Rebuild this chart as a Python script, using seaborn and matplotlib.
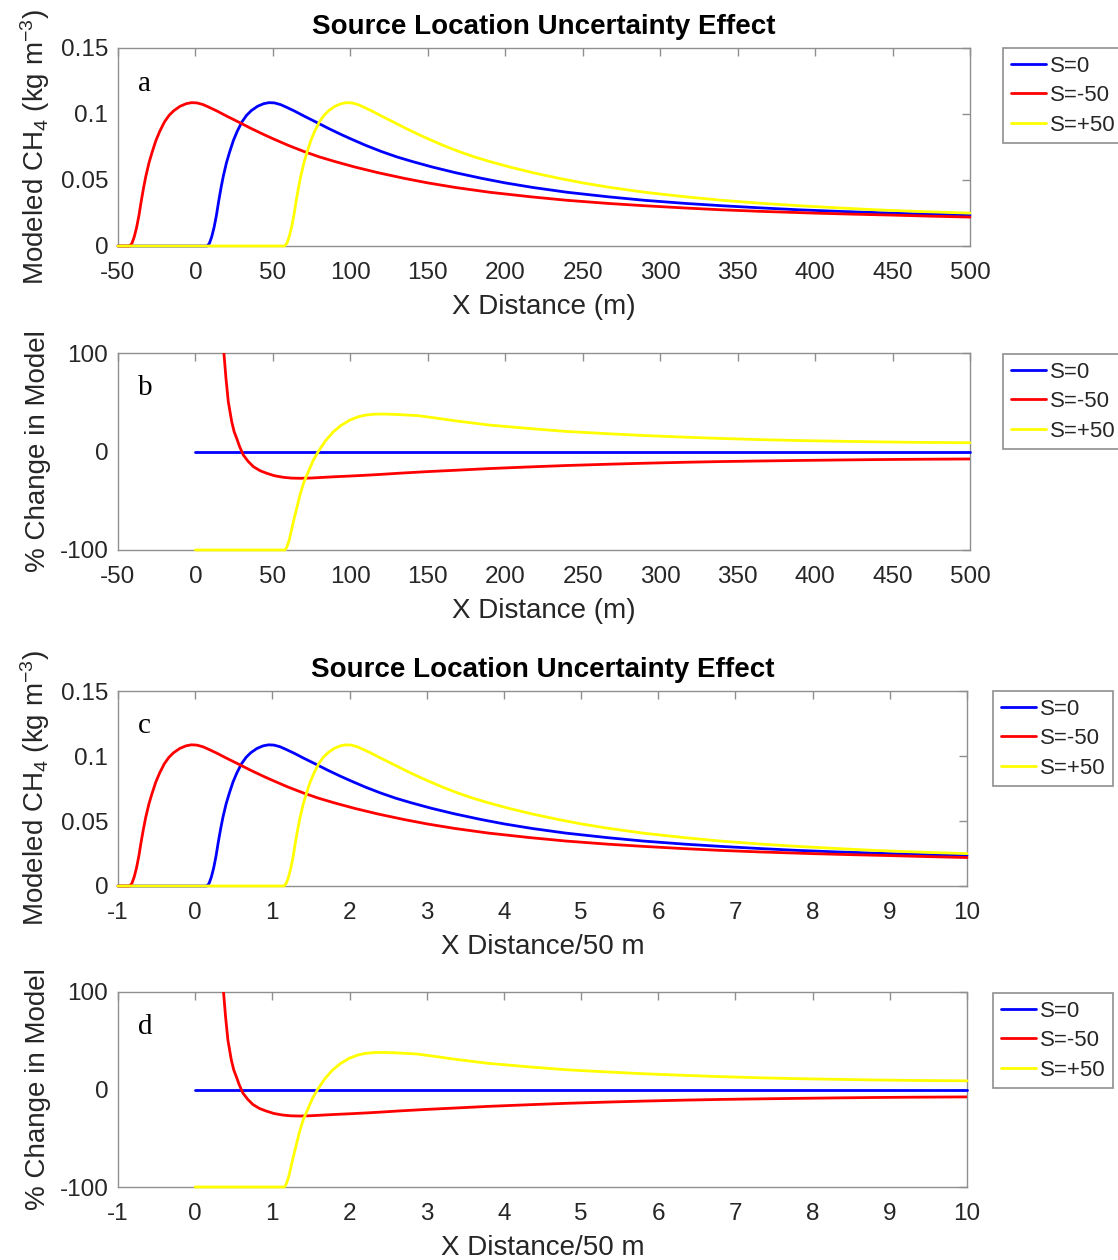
import matplotlib
matplotlib.use("Agg")
import matplotlib.pyplot as plt
import numpy as np
import pandas as pd
import seaborn as sns
from matplotlib.lines import Line2D

# ---------------- data ----------------
# Modeled concentration profile vs. distance downwind of the source (m)
downwind_m = [-100, -50, 0, 7.5, 9, 10.5, 12, 13.5, 15, 16.5, 18, 20, 22, 24.5,
              27, 30, 33, 36, 40, 44, 47.5, 51, 55, 59, 64, 70, 78, 86, 94,
              100, 110, 120, 130, 140, 153, 168, 185, 200, 218, 240, 267, 290,
              317, 340, 366, 390, 416, 450, 475, 500, 525, 550]
conc_profile = [0, 0, 0, 0, 0.002, 0.007, 0.014, 0.023, 0.034, 0.044, 0.053,
                0.063, 0.071, 0.080, 0.087, 0.094, 0.099, 0.1025, 0.1058,
                0.1078, 0.1086, 0.1084, 0.1071, 0.1050, 0.1022, 0.0985, 0.0938,
                0.0890, 0.0845, 0.0813, 0.0762, 0.0716, 0.0675, 0.0640, 0.0598,
                0.0555, 0.0512, 0.0478, 0.0443, 0.0407, 0.0372, 0.0346, 0.0322,
                0.0305, 0.0288, 0.0274, 0.0262, 0.0249, 0.0241, 0.0234, 0.0226,
                0.0219]

source_shift_m = [0, -50, 50]
series_labels = ["S=0", "S=-50", "S=+50"]
series_colors = ["#0000ff", "#ff0000", "#ffff00"]

# % change in model relative to S=0
pct_x_s0 = [0, 500]
pct_y_s0 = [0, 0]
pct_x_sm50 = [16.5, 17.5, 18.4, 19.7, 21.2, 23.4, 25, 26.6, 28.5, 30.9, 34,
              37.4, 41.7, 46, 51, 56.7, 62, 67.5, 75, 89, 100, 110, 119, 132,
              150, 168.5, 190, 218, 240, 267, 290, 317, 340, 366, 390, 416,
              440, 465, 500]
pct_y_sm50 = [135, 115, 99.2, 74.3, 50.6, 30.3, 20, 13.4, 5, -3.6, -10, -15.4,
              -19.5, -22.1, -24.6, -26.2, -27, -27.2, -26.9, -25.7, -24.9,
              -24.1, -23.3, -22, -20.4, -19, -17.3, -15.5, -14.2, -12.9, -11.9,
              -10.9, -10.2, -9.6, -9.1, -8.6, -8.2, -7.9, -7.6]
pct_x_sp50 = [0, 57.8, 59, 60.5, 62, 63.2, 65, 67.5, 70, 72.9, 76, 79.3, 84, 89,
              94, 99.8, 105, 110, 116, 122, 130, 143.8, 155, 168.5, 190, 218,
              240, 267, 290, 317, 340, 366, 390, 416, 440, 465, 500]
pct_y_sp50 = [-100, -100, -97, -90, -80, -71.3, -60, -44, -31, -20.5, -9, 0, 11,
              20, 26.5, 32, 35.2, 37, 37.9, 38, 37.6, 36.4, 34, 31, 26.8, 23,
              20.3, 18, 16.2, 14.5, 13.2, 12, 11.1, 10.4, 9.8, 9.3, 8.9]

x_range_m = [-50, 500]
x_ticks_m = [-50, 0, 50, 100, 150, 200, 250, 300, 350, 400, 450, 500]
x_ticks_norm = [-1, 0, 1, 2, 3, 4, 5, 6, 7, 8, 9, 10]
norm_length_m = 50
conc_ticks = [0, 0.05, 0.1, 0.15]
pct_ticks = [-100, 0, 100]
panel_letters = ["a", "b", "c", "d"]
title_text = "Source Location Uncertainty Effect"

# ---------------- tables ----------------
rows = []
for lab, shift in zip(series_labels, source_shift_m):
    for d, c in zip(downwind_m, conc_profile):
        x = d + shift
        if x_range_m[0] <= x <= x_range_m[1]:
            rows.append({"series": lab, "x": x, "val": c})
conc_df = pd.DataFrame(rows)

pct_df = pd.concat([
    pd.DataFrame({"series": "S=0", "x": pct_x_s0, "val": pct_y_s0}),
    pd.DataFrame({"series": "S=-50", "x": pct_x_sm50, "val": pct_y_sm50}),
    pd.DataFrame({"series": "S=+50", "x": pct_x_sp50, "val": pct_y_sp50}),
], ignore_index=True)

# ---------------- style ----------------
sns.set_theme(style="white")
plt.rcParams["font.family"] = ["Liberation Sans", "DejaVu Sans"]
plt.rcParams["mathtext.fontset"] = "custom"
plt.rcParams["mathtext.rm"] = "Liberation Sans"
plt.rcParams["mathtext.it"] = "Liberation Sans:italic"
plt.rcParams["axes.unicode_minus"] = False

text_c = "#262626"
spine_c = "#8f8f8f"
W, H = 1118, 1260

fig = plt.figure(figsize=(W / 100, H / 100), dpi=100)
rects = [
    (118, 48, 852, 198),
    (118, 353, 852, 197),
    (118, 691, 849, 195),
    (118, 992, 849, 195),
]
axes = [fig.add_axes([l / W, 1 - (t + h) / H, w / W, h / H]) for (l, t, w, h) in rects]

palette = dict(zip(series_labels, series_colors))


def draw(ax, df, scale, clip):
    d = df.copy()
    d["x"] = d["x"] / scale
    for lab in series_labels:
        sub = d[d["series"] == lab]
        sns.lineplot(data=sub, x="x", y="val", color=palette[lab], ax=ax,
                     estimator=None, sort=False, linewidth=2.0, legend=False,
                     clip_on=(clip and lab == "S=-50"), zorder=3)


def style(ax, xticks, yticks, ylim, xlabel, ylabel, letter, scale):
    ax.set_xlim(x_range_m[0] / scale, x_range_m[1] / scale)
    ax.set_ylim(*ylim)
    ax.set_xticks(xticks)
    ax.set_xticklabels([f"{t:g}" for t in xticks])
    ax.set_yticks(yticks)
    ax.set_yticklabels([f"{t:g}" for t in yticks])
    ax.tick_params(direction="in", top=True, right=True, length=6, width=1,
                   color=spine_c, labelcolor=text_c, labelsize=17.5)
    ax.tick_params(axis="x", pad=11.5)
    ax.tick_params(axis="y", pad=7)
    for s in ax.spines.values():
        s.set_color(spine_c)
        s.set_linewidth(1.0)
        s.set_zorder(2.5)
    ax.set_xlabel(xlabel, fontsize=20, color=text_c, labelpad=7)
    ax.set_ylabel(ylabel, fontsize=20, color=text_c, labelpad=6)
    ax.text(0.023, 0.785, letter, transform=ax.transAxes, fontsize=21,
            family=["Liberation Serif", "DejaVu Serif"], va="baseline",
            color="black")
    ax.grid(False)


conc_label = "Modeled CH$_4$ (kg m$^{-3}$)"
pct_label = "% Change in Model"

draw(axes[0], conc_df, 1, False)
style(axes[0], x_ticks_m, conc_ticks, (0, 0.15), "X Distance (m)", conc_label, panel_letters[0], 1)
draw(axes[1], pct_df, 1, True)
style(axes[1], x_ticks_m, pct_ticks, (-100, 100), "X Distance (m)", pct_label, panel_letters[1], 1)
draw(axes[2], conc_df, norm_length_m, False)
style(axes[2], x_ticks_norm, conc_ticks, (0, 0.15), "X Distance/50 m", conc_label, panel_letters[2], norm_length_m)
draw(axes[3], pct_df, norm_length_m, True)
style(axes[3], x_ticks_norm, pct_ticks, (-100, 100), "X Distance/50 m", pct_label, panel_letters[3], norm_length_m)

for ax in (axes[0], axes[2]):
    ax.set_title(title_text, fontsize=20, fontweight="bold", color="black", pad=10)

handles = [Line2D([0], [0], color=c, lw=2.0) for c in series_colors]
legend_pos = [(1003, 48), (1003, 354), (993, 691), (993, 993)]
for (lx, ly) in legend_pos:
    leg = fig.legend(handles, series_labels, loc="upper left",
                     bbox_to_anchor=(lx / W, 1 - ly / H),
                     bbox_transform=fig.transFigure, borderaxespad=0,
                     fontsize=16, frameon=True, fancybox=False, shadow=False,
                     handlelength=1.6, handletextpad=0.16, borderpad=0.35,
                     labelspacing=0.38)
    fr = leg.get_frame()
    fr.set_edgecolor(spine_c)
    fr.set_linewidth(1.2)
    fr.set_facecolor("white")
    fr.set_alpha(1)
    for t in leg.get_texts():
        t.set_color(text_c)

fig.savefig("out.png", dpi=100)
